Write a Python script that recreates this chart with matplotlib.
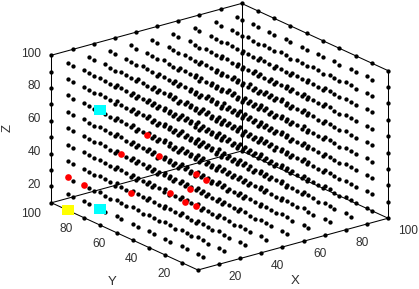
import matplotlib
matplotlib.use("Agg")
import matplotlib.pyplot as plt
import numpy as np
from matplotlib.path import Path
from mpl_toolkits.mplot3d import proj3d

grid_values = [10, 20, 30, 40, 50, 60, 70, 80, 90, 100]
tick_values = [20, 40, 60, 80, 100]

# red points
red_x = [10, 10, 20, 40, 30, 40, 20, 60, 50, 40, 40, 60]
red_y = [90, 80, 70, 80, 60, 90, 40, 80, 70, 50, 50, 70]
red_z = [30, 30, 50, 50, 50, 10, 40, 10, 10, 20, 40, 20]

cyan_x = [10, 10]
cyan_y = [70, 70]
cyan_z = [80, 20]

yellow_x = [10]
yellow_y = [90]
yellow_z = [10]

plt.rcParams['font.family'] = ['Liberation Sans', 'DejaVu Sans']

fig = plt.figure(figsize=(4.19, 2.89), dpi=100)
ax = fig.add_axes([76 / 419, 8.5 / 289, 280 / 419, 280 / 289], projection='3d',
                  proj_type='ortho', computed_zorder=False)
ax.view_init(elev=20.7, azim=-127.6)
ax.set_box_aspect((1, 1, 0.657), zoom=1.298)
ax.set_xlim(10, 100)
ax.set_ylim(10, 100)
ax.set_zlim(10, 100)
ax.set_xticks([])
ax.set_yticks([])
ax.set_zticks([])
ax.set_axis_off()

# back walls of the box
lo, hi = grid_values[0], grid_values[-1]
edges = [
    ([lo, hi], [lo, lo], [lo, lo]),
    ([lo, lo], [lo, hi], [lo, lo]),
    ([lo, hi], [hi, hi], [lo, lo]),
    ([hi, hi], [lo, hi], [lo, lo]),
    ([lo, lo], [hi, hi], [lo, hi]),
    ([hi, hi], [hi, hi], [lo, hi]),
    ([hi, hi], [lo, lo], [lo, hi]),
    ([lo, hi], [hi, hi], [hi, hi]),
    ([hi, hi], [lo, hi], [hi, hi]),
]
for ex, ey, ez in edges:
    ax.plot(ex, ey, ez, color='k', lw=0.75, zorder=1, clip_on=False)

gx, gy, gz = np.meshgrid(grid_values, grid_values, grid_values)
ax.plot(gx.ravel(), gy.ravel(), gz.ravel(), ls='', marker='o', ms=3.1,
        color='k', mew=0, zorder=2, clip_on=False)

ax.plot(red_x, red_y, red_z, ls='', marker='o', ms=4.8, color='#ff0000',
        mew=0, zorder=3, clip_on=False)

box = Path([(-5.5, -4.5), (5.5, -4.5), (5.5, 4.5), (-5.5, 4.5), (-5.5, -4.5)])
ax.plot(cyan_x, cyan_y, cyan_z, ls='', marker=box, ms=8, color='#00ffff',
        mew=0, zorder=4, clip_on=False)
ax.plot(yellow_x, yellow_y, yellow_z, ls='', marker=box, ms=8, color='#ffff00',
        mew=0, zorder=4, clip_on=False)

txt = '#303030'
M = ax.get_proj()


def label3d(x, y, z, s, **kw):
    # project by hand so the label is plain 2D text
    px, py, _ = proj3d.proj_transform(x, y, z, M)
    ax.text2D(px, py, s, transform=ax.transData, va='center', color=txt,
              clip_on=False, **kw)


for v in tick_values:
    label3d(v, 4, 4.8, str(v), ha='left', fontsize=8.6)
    label3d(4.8, v, 5.1, str(v), ha='right', fontsize=8.6)
    label3d(5, 100, v + 2.7, str(v), ha='right', fontsize=8.6)

label3d(40.4, -10, 1.5, 'X', ha='center', fontsize=9.5)
label3d(-15, 30.5, 2, 'Y', ha='center', fontsize=9.5)
label3d(-3, 110, 55.5, 'Z', ha='center', fontsize=9.5, rotation=90)

fig.savefig('out.png', dpi=100)
